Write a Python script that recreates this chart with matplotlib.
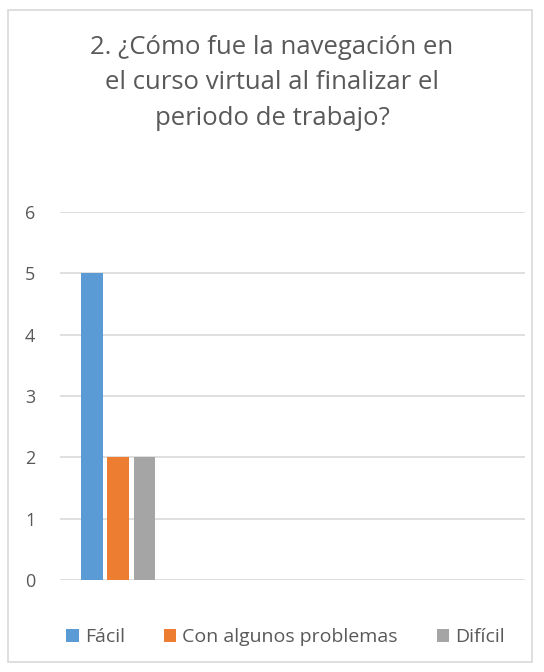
import matplotlib.pyplot as plt
from matplotlib.patches import Rectangle

plt.rcParams['font.family'] = ['Open Sans', 'DejaVu Sans']

# Data
categories = ['1', '2', '3', '4']
series = ['Fácil', 'Con algunos problemas', 'Difícil']
values = {
    'Fácil': [5, None, None, None],
    'Con algunos problemas': [2, None, None, None],
    'Difícil': [2, None, None, None],
}
colors = ['#5b9bd5', '#ed7d31', '#a5a5a5']
yticks = [0, 1, 2, 3, 4, 5, 6]

fig = plt.figure(figsize=(5.44, 6.72), dpi=100)
ax = fig.add_axes([0.110, 0.137, 0.855, 0.5476])

width = 0.185
offsets = [-0.225, 0.0, 0.23]
for name, col, off in zip(series, colors, offsets):
    xs = [i + off for i, v in enumerate(values[name]) if v is not None]
    ys = [v for v in values[name] if v is not None]
    ax.bar(xs, ys, width=width, color=col, label=name, zorder=3)

ax.set_xlim(-0.5, len(categories) - 0.5)
ax.set_ylim(0, 6)
ax.set_yticks(yticks)
ax.set_xticks([])
ax.grid(axis='y', color='#d9d9d9', linewidth=1.2, zorder=0)
for s in ax.spines.values():
    s.set_visible(False)
ax.tick_params(axis='y', length=0, labelsize=13, labelcolor='#595959', pad=25)
for lab in ax.get_yticklabels():
    lab.set_horizontalalignment('left')

fig.text(0.5, 0.948, '2. ¿Cómo fue la navegación en\nel curso virtual al finalizar el\nperiodo de trabajo?',
         ha='center', va='top', fontsize=18.5, color='#595959', linespacing=1.55)

leg = fig.legend(loc='center', bbox_to_anchor=(0.525, 0.052), ncol=3, frameon=False,
                 fontsize=14, handlelength=0.65, handleheight=0.65, handletextpad=0.3,
                 columnspacing=2.0)
for t in leg.get_texts():
    t.set_color('#595959')

fig.patches.append(Rectangle((8 / 544, 10 / 672), 524 / 544, 652 / 672, transform=fig.transFigure,
                             fill=False, edgecolor='#d9d9d9', linewidth=1.2))

fig.savefig('out.png', dpi=100)
